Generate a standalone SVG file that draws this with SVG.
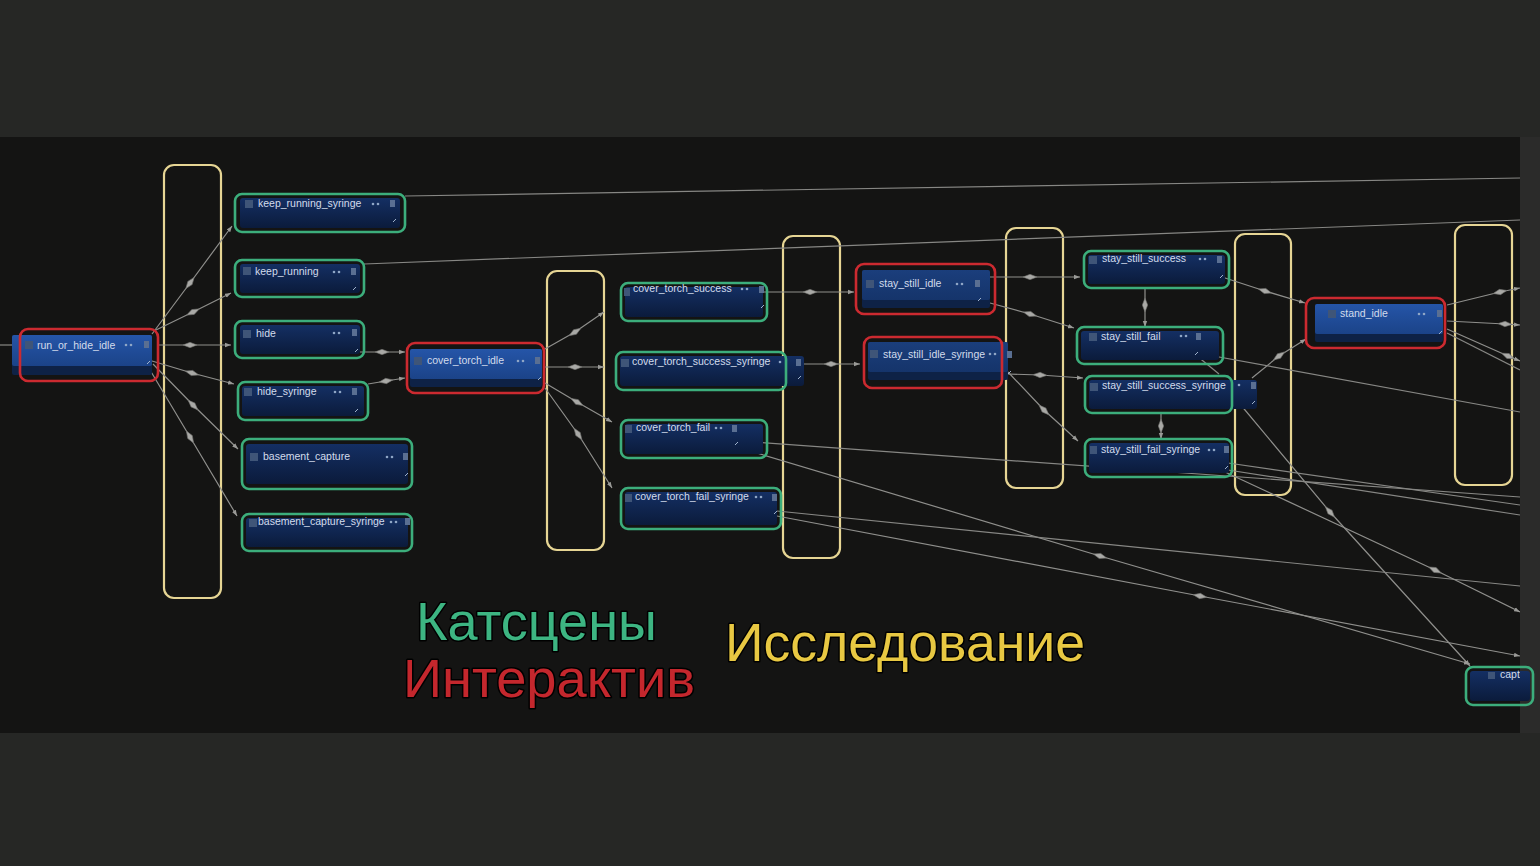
<svg xmlns="http://www.w3.org/2000/svg" width="1540" height="866" viewBox="0 0 1540 866">
<defs>
<style>
.frame{fill:none;stroke:#e6d594;stroke-width:2.2}
.cut{fill:none;stroke:#3cae7c;stroke-width:2.6}
.inter{fill:none;stroke:#cc2a30;stroke-width:2.6}
.gbody{fill:url(#gg)}
.rbody{fill:#0e2246}
.rhead{fill:url(#rg)}
.ico{fill:#3f5578}
.ricon{fill:#5a6f92}
.title{font-family:"Liberation Sans",Arial,sans-serif;font-size:10.5px;fill:#d3dcec}
.dots{fill:#8fa6c6}
.hdl{fill:none;stroke:#9fb2cc;stroke-width:1}
.conn{fill:none;stroke:#8f8f8c;stroke-width:1.2;marker-mid:url(#mid);marker-end:url(#arr)}
.line{fill:none;stroke:#878784;stroke-width:1.2}
.legend{font-family:"Liberation Sans",Arial,sans-serif;font-size:54px;stroke:#000;stroke-width:3;paint-order:stroke;stroke-linejoin:round}
</style>
<linearGradient id="gg" x1="0" y1="0" x2="0" y2="1">
<stop offset="0" stop-color="#142f63"/>
<stop offset="1" stop-color="#0b1b3b"/>
</linearGradient>
<linearGradient id="rg" x1="0" y1="0" x2="0" y2="1">
<stop offset="0" stop-color="#2555a8"/>
<stop offset="1" stop-color="#1b4388"/>
</linearGradient>
<marker id="mid" markerUnits="userSpaceOnUse" markerWidth="16" markerHeight="8" refX="8" refY="4" orient="auto" viewBox="0 0 16 8">
<path d="M1 4 L8 1.3 L15 4 L8 6.7 Z" fill="#a9a9a6" stroke="#6f6f6c" stroke-width="0.6"/>
</marker>
<marker id="arr" markerUnits="userSpaceOnUse" markerWidth="6" markerHeight="6" refX="6" refY="3" orient="auto" viewBox="0 0 6 6">
<path d="M0 0.8 L6 3 L0 5.2 Z" fill="#9a9a97"/>
</marker>
<clipPath id="panelclip"><rect x="0" y="137" width="1520" height="596"/></clipPath>
</defs>

<rect x="0" y="0" width="1540" height="866" fill="#262725"/>
<rect x="0" y="137" width="1520" height="596" fill="#141413"/>
<rect x="1520" y="137" width="20" height="596" fill="#2b2b2a"/>

<g id="frames">
<rect id="frame-1" class="frame" x="164" y="165" width="57" height="433" rx="10"/>
<rect id="frame-2" class="frame" x="547" y="271" width="57" height="279" rx="10"/>
<rect id="frame-3" class="frame" x="783" y="236" width="57" height="322" rx="10"/>
<rect id="frame-4" class="frame" x="1006" y="228" width="57" height="260" rx="10"/>
<rect id="frame-5" class="frame" x="1235" y="234" width="56" height="261" rx="10"/>
<rect id="frame-6" class="frame" x="1455" y="225" width="57" height="260" rx="10"/>
</g>

<g id="connectors" clip-path="url(#panelclip)">
<path class="line" d="M0 345 L12 345"/>
<path class="conn" d="M152 334 L190 283 L232 226"/>
<path class="conn" d="M156 330 L193 312 L231 293"/>
<path class="conn" d="M158 345 L190 345 L231 345"/>
<path class="conn" d="M152 361 L192 373 L234 384"/>
<path class="conn" d="M153 364 L193 405 L238 449"/>
<path class="conn" d="M150 370 L190 437 L237 516"/>
<path class="conn" d="M360 352 L382 352 L405 352"/>
<path class="conn" d="M368 384 L386 381 L405 378"/>
<path class="conn" d="M545 349 L575 332 L604 312"/>
<path class="conn" d="M545 367 L575 367 L604 367"/>
<path class="conn" d="M545 383 L577 402 L612 422"/>
<path class="conn" d="M545 388 L578 434 L612 488"/>
<path class="conn" d="M763 292 L810 292 L854 292"/>
<path class="conn" d="M800 364 L831 364 L860 364"/>
<path class="conn" d="M990 277 L1030 277 L1080 277"/>
<path class="conn" d="M990 303 L1030 314 L1074 328"/>
<path class="conn" d="M1008 374 L1040 375 L1083 378"/>
<path class="conn" d="M1008 372 L1044 410 L1078 441"/>
<path class="conn" d="M1145 288 L1145 305 L1145 327"/>
<path class="conn" d="M1161 413 L1161 426 L1161 439"/>
<path class="conn" d="M1222 277 L1265 291 L1305 303"/>
<path class="conn" d="M1252 378 L1279 356 L1306 339"/>
<path class="conn" d="M1240 404 L1330 512 L1470 666"/>
<path class="conn" d="M737 447 L1100 556 L1470 664"/>
<path class="line" d="M738 441 L1520 497"/>
<path class="line" d="M777 511 L1520 586"/>
<path class="conn" d="M777 516 L1200 596 L1520 656"/>
<path class="line" d="M1197 353 L1520 412"/>
<path class="line" d="M1228 463 L1520 505"/>
<path class="line" d="M1228 470 L1520 515"/>
<path class="conn" d="M1225 472 L1435 570 L1520 612"/>
<path class="line" d="M405 196 L1520 178"/>
<path class="line" d="M364 264 L1520 220"/>
<path class="conn" d="M1447 305 L1500 292 L1520 288"/>
<path class="conn" d="M1447 321 L1505 324 L1520 325"/>
<path class="conn" d="M1447 329 L1508 356 L1520 361"/>
<path class="line" d="M1447 333 L1520 370"/>
<path class="line" d="M1197 356 L1219 374"/>
</g>

<g id="n-keep_running_syringe">
<rect class="gbody" x="240" y="198" width="160" height="30" rx="3"/>
<rect class="cut" x="235" y="194" width="170" height="38" rx="7"/>
<rect class="ico" x="245" y="200" width="8" height="8"/>
<text class="title" x="258" y="207">keep_running_syringe</text>
<circle class="dots" cx="373" cy="204" r="1.3"/><circle class="dots" cx="378" cy="204" r="1.3"/>
<rect class="ricon" x="390" y="200" width="5" height="7"/>
<path class="hdl" d="M393 222 L396 219"/>
</g>

<g id="n-keep_running">
<rect class="gbody" x="240" y="264" width="120" height="29" rx="3"/>
<rect class="cut" x="235" y="260" width="129" height="37" rx="7"/>
<rect class="ico" x="243" y="267" width="8" height="8"/>
<text class="title" x="255" y="275">keep_running</text>
<circle class="dots" cx="334" cy="272" r="1.3"/><circle class="dots" cx="339" cy="272" r="1.3"/>
<rect class="ricon" x="351" y="268" width="5" height="7"/>
<path class="hdl" d="M353 290 L356 287"/>
</g>

<g id="n-hide">
<rect class="gbody" x="240" y="325" width="120" height="29" rx="3"/>
<rect class="cut" x="235" y="321" width="129" height="37" rx="7"/>
<rect class="ico" x="243" y="330" width="8" height="8"/>
<text class="title" x="256" y="337">hide</text>
<circle class="dots" cx="334" cy="333" r="1.3"/><circle class="dots" cx="339" cy="333" r="1.3"/>
<rect class="ricon" x="352" y="329" width="5" height="7"/>
<path class="hdl" d="M355 352 L358 349"/>
</g>

<g id="n-hide_syringe">
<rect class="gbody" x="242" y="386" width="122" height="30" rx="3"/>
<rect class="cut" x="238" y="382" width="130" height="38" rx="7"/>
<rect class="ico" x="244" y="388" width="8" height="8"/>
<text class="title" x="257" y="395">hide_syringe</text>
<circle class="dots" cx="335" cy="392" r="1.3"/><circle class="dots" cx="340" cy="392" r="1.3"/>
<rect class="ricon" x="352" y="388" width="5" height="7"/>
<path class="hdl" d="M355 412 L358 409"/>
</g>

<g id="n-basement_capture">
<rect class="gbody" x="246" y="444" width="162" height="40" rx="3"/>
<rect class="cut" x="242" y="439" width="170" height="50" rx="7"/>
<rect class="ico" x="250" y="453" width="8" height="8"/>
<text class="title" x="263" y="460">basement_capture</text>
<circle class="dots" cx="387" cy="457" r="1.3"/><circle class="dots" cx="392" cy="457" r="1.3"/>
<rect class="ricon" x="403" y="453" width="5" height="7"/>
<path class="hdl" d="M405 476 L408 473"/>
</g>

<g id="n-basement_capture_syringe">
<rect class="gbody" x="246" y="518" width="162" height="29" rx="3"/>
<rect class="cut" x="242" y="514" width="170" height="37" rx="7"/>
<rect class="ico" x="249" y="519" width="8" height="8"/>
<text class="title" x="258" y="525">basement_capture_syringe</text>
<circle class="dots" cx="391" cy="522" r="1.3"/><circle class="dots" cx="396" cy="522" r="1.3"/>
<rect class="ricon" x="405" y="518" width="5" height="7"/>
</g>

<g id="n-cover_torch_success">
<rect class="gbody" x="625" y="287" width="138" height="30" rx="3"/>
<rect class="cut" x="621" y="283" width="146" height="38" rx="7"/>
<rect class="ico" x="624" y="288" width="6" height="8"/>
<text class="title" x="633" y="292">cover_torch_success</text>
<circle class="dots" cx="742" cy="289" r="1.3"/><circle class="dots" cx="747" cy="289" r="1.3"/>
<rect class="ricon" x="759" y="286" width="5" height="7"/>
<path class="hdl" d="M761 308 L764 305"/>
</g>

<g id="n-cover_torch_success_syringe">
<rect class="gbody" x="620" y="356" width="184" height="30" rx="3"/>
<rect class="cut" x="616" y="352" width="170" height="38" rx="7"/>
<rect class="ico" x="621" y="359" width="8" height="8"/>
<text class="title" x="632" y="365">cover_torch_success_syringe</text>
<circle class="dots" cx="780" cy="362" r="1.3"/>
<rect class="ricon" x="796" y="359" width="5" height="7"/>
<path class="hdl" d="M798 379 L801 376"/>
</g>

<g id="n-cover_torch_fail">
<rect class="gbody" x="625" y="424" width="138" height="30" rx="3"/>
<rect class="cut" x="621" y="420" width="146" height="38" rx="7"/>
<rect class="ico" x="625" y="425" width="7" height="8"/>
<text class="title" x="636" y="431">cover_torch_fail</text>
<circle class="dots" cx="716" cy="428" r="1.3"/><circle class="dots" cx="721" cy="428" r="1.3"/>
<rect class="ricon" x="732" y="425" width="5" height="7"/>
<path class="hdl" d="M735 445 L738 442"/>
</g>

<g id="n-cover_torch_fail_syringe">
<rect class="gbody" x="625" y="492" width="152" height="33" rx="3"/>
<rect class="cut" x="621" y="488" width="160" height="41" rx="7"/>
<rect class="ico" x="625" y="494" width="7" height="8"/>
<text class="title" x="635" y="500">cover_torch_fail_syringe</text>
<circle class="dots" cx="756" cy="497" r="1.3"/><circle class="dots" cx="761" cy="497" r="1.3"/>
<rect class="ricon" x="772" y="494" width="5" height="7"/>
<path class="hdl" d="M774 514 L777 511"/>
</g>

<g id="n-stay_still_success">
<rect class="gbody" x="1088" y="255" width="137" height="29" rx="3"/>
<rect class="cut" x="1084" y="251" width="145" height="37" rx="7"/>
<rect class="ico" x="1089" y="256" width="8" height="8"/>
<text class="title" x="1102" y="262">stay_still_success</text>
<circle class="dots" cx="1200" cy="259" r="1.3"/><circle class="dots" cx="1205" cy="259" r="1.3"/>
<rect class="ricon" x="1217" y="256" width="5" height="7"/>
<path class="hdl" d="M1220 278 L1223 275"/>
</g>

<g id="n-stay_still_fail">
<rect class="gbody" x="1081" y="331" width="138" height="29" rx="3"/>
<rect class="cut" x="1077" y="327" width="146" height="37" rx="7"/>
<rect class="ico" x="1089" y="333" width="8" height="8"/>
<text class="title" x="1101" y="340">stay_still_fail</text>
<circle class="dots" cx="1181" cy="336" r="1.3"/><circle class="dots" cx="1186" cy="336" r="1.3"/>
<rect class="ricon" x="1196" y="333" width="5" height="7"/>
<path class="hdl" d="M1195 355 L1198 352"/>
</g>

<g id="n-stay_still_success_syringe">
<rect class="gbody" x="1089" y="380" width="168" height="29" rx="3"/>
<rect class="cut" x="1085" y="376" width="147" height="37" rx="7"/>
<rect class="ico" x="1090" y="383" width="8" height="8"/>
<text class="title" x="1102" y="389">stay_still_success_syringe</text>
<circle class="dots" cx="1239" cy="385" r="1.3"/>
<rect class="ricon" x="1251" y="382" width="5" height="7"/>
<path class="hdl" d="M1252 404 L1255 401"/>
</g>

<g id="n-stay_still_fail_syringe">
<rect class="gbody" x="1089" y="443" width="140" height="30" rx="3"/>
<rect class="cut" x="1085" y="439" width="147" height="38" rx="7"/>
<rect class="ico" x="1090" y="446" width="7" height="8"/>
<text class="title" x="1101" y="453">stay_still_fail_syringe</text>
<circle class="dots" cx="1209" cy="450" r="1.3"/><circle class="dots" cx="1214" cy="450" r="1.3"/>
<rect class="ricon" x="1224" y="446" width="5" height="7"/>
<path class="hdl" d="M1225 469 L1228 466"/>
</g>

<g id="n-capt">
<rect class="gbody" x="1470" y="671" width="60" height="30" rx="3"/>
<rect class="cut" x="1466" y="667" width="67" height="38" rx="7"/>
<rect class="ico" x="1488" y="672" width="7" height="7"/>
<text class="title" x="1500" y="678" clip-path="url(#panelclip)">capt</text>
</g>

<g id="n-run_or_hide_idle">
<rect class="rbody" x="12" y="335" width="140" height="40" rx="2"/>
<rect class="rhead" x="12" y="335" width="140" height="31" rx="2"/>
<rect class="inter" x="20" y="329" width="138" height="52" rx="8"/>
<rect class="ico" x="25" y="341" width="8" height="8"/>
<text class="title" x="37" y="349">run_or_hide_idle</text>
<circle class="dots" cx="126" cy="345" r="1.3"/><circle class="dots" cx="131" cy="345" r="1.3"/>
<rect class="ricon" x="144" y="341" width="5" height="7"/>
<path class="hdl" d="M147 364 L150 361"/>
</g>

<g id="n-cover_torch_idle">
<rect class="rbody" x="410" y="349" width="132" height="38" rx="2"/>
<rect class="rhead" x="410" y="349" width="132" height="30" rx="2"/>
<rect class="inter" x="407" y="343" width="137" height="50" rx="8"/>
<rect class="ico" x="414" y="357" width="8" height="8"/>
<text class="title" x="427" y="364">cover_torch_idle</text>
<circle class="dots" cx="518" cy="361" r="1.3"/><circle class="dots" cx="523" cy="361" r="1.3"/>
<rect class="ricon" x="535" y="357" width="5" height="7"/>
<path class="hdl" d="M538 380 L541 377"/>
</g>

<g id="n-stay_still_idle">
<rect class="rbody" x="862" y="270" width="128" height="38" rx="2"/>
<rect class="rhead" x="862" y="270" width="128" height="30" rx="2" opacity="0.55"/>
<rect class="inter" x="856" y="264" width="139" height="50" rx="8"/>
<rect class="ico" x="866" y="280" width="8" height="8"/>
<text class="title" x="879" y="287">stay_still_idle</text>
<circle class="dots" cx="957" cy="284" r="1.3"/><circle class="dots" cx="962" cy="284" r="1.3"/>
<rect class="ricon" x="975" y="280" width="5" height="7"/>
<path class="hdl" d="M978 301 L981 298"/>
</g>

<g id="n-stay_still_idle_syringe">
<rect class="rbody" x="868" y="342" width="140" height="38" rx="2"/>
<rect class="rhead" x="868" y="342" width="140" height="30" rx="2" opacity="0.55"/>
<rect class="inter" x="864" y="337" width="138" height="51" rx="8"/>
<rect class="ico" x="870" y="350" width="8" height="8"/>
<text class="title" x="883" y="358">stay_still_idle_syringe</text>
<circle class="dots" cx="990" cy="354" r="1.3"/><circle class="dots" cx="995" cy="354" r="1.3"/>
<rect class="ricon" x="1007" y="351" width="5" height="7"/>
<path class="hdl" d="M1008 374 L1011 371"/>
</g>

<g id="n-stand_idle">
<rect class="rbody" x="1315" y="304" width="128" height="38" rx="2"/>
<rect class="rhead" x="1315" y="304" width="128" height="30" rx="2"/>
<rect class="inter" x="1306" y="298" width="139" height="50" rx="8"/>
<rect class="ico" x="1328" y="310" width="8" height="8"/>
<text class="title" x="1340" y="317">stand_idle</text>
<circle class="dots" cx="1419" cy="314" r="1.3"/><circle class="dots" cx="1424" cy="314" r="1.3"/>
<rect class="ricon" x="1437" y="310" width="5" height="7"/>
<path class="hdl" d="M1439 334 L1442 331"/>
</g>

<g id="legend">
<text class="legend" x="416" y="640" fill="#3db582" textLength="241" lengthAdjust="spacingAndGlyphs">Катсцены</text>
<text class="legend" x="403" y="697" fill="#c4272d" textLength="292" lengthAdjust="spacingAndGlyphs">Интерактив</text>
<text class="legend" x="725" y="661" fill="#e8c842" textLength="360" lengthAdjust="spacingAndGlyphs">Исследование</text>
</g>
</svg>
